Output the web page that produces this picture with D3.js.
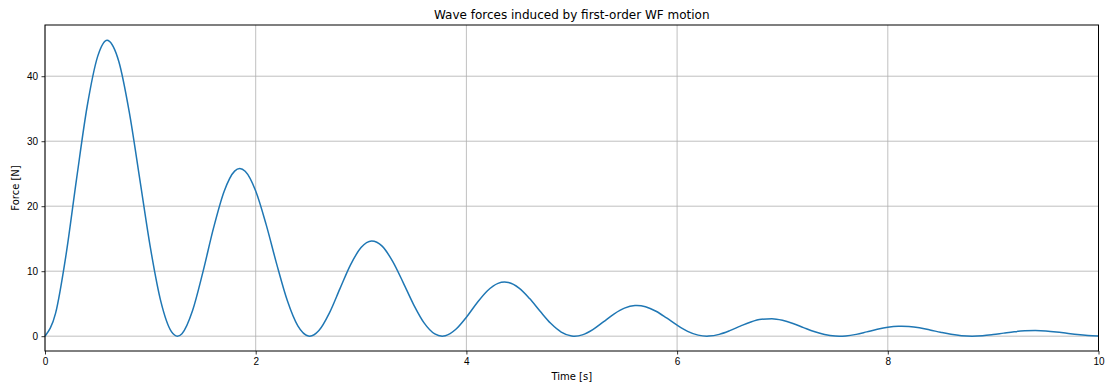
<!DOCTYPE html>
<html>
<head>
<meta charset="utf-8">
<script src="https://cdn.jsdelivr.net/npm/d3@7"></script>
<style>
  body { margin: 0; background: #fff; }
  svg { display: block; font-family: "DejaVu Sans", sans-serif; }
  .grid line { stroke: #b0b0b0; stroke-width: 0.8; }
  .axis text { font-size: 10px; fill: #000; }
  .axis line { stroke: #000; stroke-width: 0.8; }
</style>
</head>
<body>
<div id="chart"></div>
<script>
// sample times [s] (0.1 s grid plus the peaks / troughs)
var times = [
  0.0, 0.1, 0.2, 0.3, 0.4, 0.5, 0.59, 0.6, 0.7, 0.8, 0.9,
  1.0, 1.1, 1.2, 1.257, 1.3, 1.4, 1.5, 1.6, 1.7, 1.8, 1.849, 1.9,
  2.0, 2.1, 2.2, 2.3, 2.4, 2.5, 2.513, 2.6, 2.7, 2.8, 2.9,
  3.0, 3.1, 3.2, 3.3, 3.4, 3.5, 3.6, 3.7, 3.77, 3.8, 3.9,
  4.0, 4.1, 4.2, 4.3, 4.362, 4.4, 4.5, 4.6, 4.7, 4.8, 4.9,
  5.0, 5.027, 5.1, 5.2, 5.3, 5.4, 5.5, 5.6, 5.619, 5.7, 5.8, 5.9,
  6.0, 6.1, 6.2, 6.283, 6.3, 6.4, 6.5, 6.6, 6.7, 6.8, 6.9,
  7.0, 7.1, 7.2, 7.3, 7.4, 7.5, 7.54, 7.6, 7.7, 7.8, 7.9,
  8.0, 8.1, 8.132, 8.2, 8.3, 8.4, 8.5, 8.6, 8.7, 8.8, 8.9,
  9.0, 9.1, 9.2, 9.3, 9.4, 9.5, 9.6, 9.7, 9.8, 9.9,
  10.0
];

// force [N], one per time above
var force = [
  0.00, 3.50, 12.55, 24.25, 35.34, 43.05, 45.55, 45.50, 42.30, 34.47, 24.13,
  13.65, 5.31, 0.69, 0.00, 0.39, 3.92, 9.94, 16.66, 22.27, 25.40, 25.79, 25.37,
  22.34, 17.13, 11.05, 5.48, 1.58, 0.02, 0.00, 0.86, 3.59, 7.32, 10.98,
  13.63, 14.65, 13.86, 11.51, 8.25, 4.83, 2.01, 0.34, 0.00, 0.06, 1.06,
  2.92, 5.10, 6.99, 8.12, 8.32, 8.25, 7.39, 5.78, 3.83, 1.98, 0.64,
  0.03, 0.00, 0.20, 1.02, 2.20, 3.40, 4.31, 4.72, 4.73, 4.54, 3.84, 2.81,
  1.70, 0.75, 0.16, 0.00, 0.01, 0.28, 0.85, 1.55, 2.19, 2.59, 2.68,
  2.44, 1.95, 1.32, 0.71, 0.25, 0.02, 0.00, 0.04, 0.28, 0.66, 1.05,
  1.36, 1.52, 1.53, 1.48, 1.28, 0.96, 0.60, 0.28, 0.07, 0.00, 0.07,
  0.25, 0.47, 0.68, 0.82, 0.87, 0.80, 0.65, 0.45, 0.25, 0.10,
  0.01
];

var xTicks = [0, 2, 4, 6, 8, 10];
var yTicks = [0, 10, 20, 30, 40];

var width = 1109, height = 387;
var margin = {top: 25, right: 10.5, bottom: 36, left: 45};
var plotW = width - margin.left - margin.right;
var plotH = height - margin.top - margin.bottom;

var svg = d3.select("#chart").append("svg")
    .attr("width", width)
    .attr("height", height);

var x = d3.scaleLinear().domain([0, 10]).range([0, plotW]);
var y = d3.scaleLinear().domain([-2.28, 47.88]).range([plotH, 0]);

var g = svg.append("g")
    .attr("transform", "translate(" + margin.left + "," + margin.top + ")");

/////////// GRID ///////////
g.append("g").attr("class", "grid")
  .selectAll("line.v").data(xTicks).enter().append("line")
    .attr("x1", function(d) { return x(d); })
    .attr("x2", function(d) { return x(d); })
    .attr("y1", 0).attr("y2", plotH);

g.append("g").attr("class", "grid")
  .selectAll("line.h").data(yTicks).enter().append("line")
    .attr("x1", 0).attr("x2", plotW)
    .attr("y1", function(d) { return y(d); })
    .attr("y2", function(d) { return y(d); });

/////////// LINE ///////////
var line = d3.line()
    .x(function(d, i) { return x(times[i]); })
    .y(function(d) { return y(d); })
    .curve(d3.curveMonotoneX);

g.append("path")
    .datum(force)
    .attr("fill", "none")
    .attr("stroke", "#1f77b4")
    .attr("stroke-width", 1.5)
    .attr("stroke-linejoin", "round")
    .attr("d", line);

/////////// AXES ///////////
var xAxis = g.append("g").attr("class", "axis")
    .attr("transform", "translate(0," + plotH + ")")
    .call(d3.axisBottom(x).tickValues(xTicks).tickSize(3.5).tickPadding(3.5).tickFormat(d3.format("d")));
xAxis.select(".domain").remove();

var yAxis = g.append("g").attr("class", "axis")
    .call(d3.axisLeft(y).tickValues(yTicks).tickSize(3.5).tickPadding(3.5).tickFormat(d3.format("d")));
yAxis.select(".domain").remove();

// frame
g.append("rect")
    .attr("x", 0).attr("y", 0)
    .attr("width", plotW).attr("height", plotH)
    .attr("fill", "none")
    .attr("stroke", "#000")
    .attr("stroke-width", 1);

/////////// TEXT ///////////
svg.append("text")
    .attr("x", margin.left + plotW / 2)
    .attr("y", 19)
    .attr("text-anchor", "middle")
    .style("font-size", "12px")
    .text("Wave forces induced by first-order WF motion");

svg.append("text")
    .attr("x", margin.left + plotW / 2)
    .attr("y", 380)
    .attr("text-anchor", "middle")
    .style("font-size", "10px")
    .text("Time [s]");

svg.append("text")
    .attr("transform", "translate(19," + (margin.top + plotH / 2) + ") rotate(-90)")
    .attr("text-anchor", "middle")
    .style("font-size", "10px")
    .text("Force [N]");
</script>
</body>
</html>
